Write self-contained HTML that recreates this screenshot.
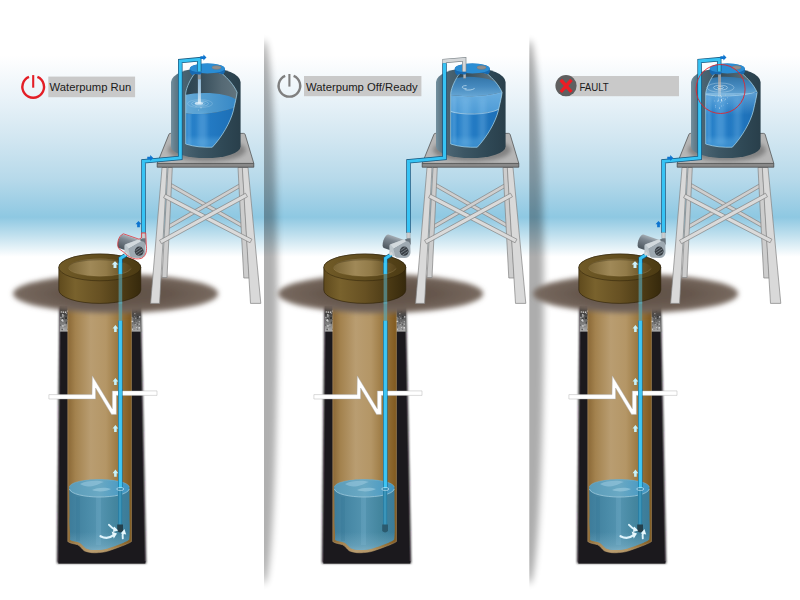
<!DOCTYPE html>
<html lang="en"><head><meta charset="utf-8"><title>Waterpump status</title>
<style>html,body{margin:0;padding:0;background:#fff;}body{width:800px;height:600px;overflow:hidden;}svg{display:block;}</style>
</head><body>
<svg width="800" height="600" viewBox="0 0 800 600">

<defs>
<linearGradient id="bg" x1="0" y1="0" x2="0" y2="600" gradientUnits="userSpaceOnUse">
<stop offset="0" stop-color="#ffffff"/>
<stop offset="0.092" stop-color="#ffffff"/>
<stop offset="0.167" stop-color="#e8f2f8"/>
<stop offset="0.233" stop-color="#d1e6f1"/>
<stop offset="0.300" stop-color="#b6d9ea"/>
<stop offset="0.362" stop-color="#8ec8e2"/>
<stop offset="0.392" stop-color="#c0e0ee"/>
<stop offset="0.428" stop-color="#ffffff"/>
<stop offset="1" stop-color="#ffffff"/>
</linearGradient>
<linearGradient id="divh" x1="0" y1="0" x2="1" y2="0">
<stop offset="0" stop-color="#9c9c9c" stop-opacity="0.95"/>
<stop offset="0.25" stop-color="#a8a8a8" stop-opacity="0.85"/>
<stop offset="0.6" stop-color="#c8c8c8" stop-opacity="0.45"/>
<stop offset="1" stop-color="#ffffff" stop-opacity="0"/>
</linearGradient>
<linearGradient id="divmask" x1="0" y1="0" x2="0" y2="600" gradientUnits="userSpaceOnUse">
<stop offset="0.05" stop-color="#000"/>
<stop offset="0.16" stop-color="#fff"/>
<stop offset="0.86" stop-color="#fff"/>
<stop offset="0.975" stop-color="#000"/>
</linearGradient>
<mask id="dm" maskUnits="userSpaceOnUse" x="0" y="0" width="800" height="600"><rect width="800" height="600" fill="url(#divmask)"/></mask>
<filter id="blur15" x="-10%" y="-5%" width="120%" height="110%"><feGaussianBlur stdDeviation="1.2"/></filter>
<filter id="blurdiv" x="-100%" y="-5%" width="300%" height="110%"><feGaussianBlur stdDeviation="3.8"/></filter>
<clipPath id="dc1"><rect x="264" y="0" width="60" height="600"/></clipPath>
<clipPath id="dc2"><rect x="529.3" y="0" width="60" height="600"/></clipPath>
<filter id="blur1" x="-20%" y="-20%" width="140%" height="140%"><feGaussianBlur stdDeviation="1"/></filter>
<filter id="blur2" x="-30%" y="-30%" width="160%" height="160%"><feGaussianBlur stdDeviation="2"/></filter>
<filter id="blur3" x="-20%" y="-50%" width="140%" height="200%"><feGaussianBlur stdDeviation="2.4"/></filter>
<radialGradient id="gshadow" cx="0.5" cy="0.5" r="0.5"><stop offset="0" stop-color="#5f5047"/><stop offset="0.55" stop-color="#66574d"/><stop offset="1" stop-color="#786a60"/></radialGradient>
<linearGradient id="gravel" x1="0" y1="0" x2="0" y2="1">
<stop offset="0" stop-color="#2a2a2a"/><stop offset="0.3" stop-color="#3c3c3c"/><stop offset="0.6" stop-color="#707070"/><stop offset="0.9" stop-color="#9c9c9c"/><stop offset="1" stop-color="#b0b0b0"/>
</linearGradient>
<linearGradient id="tube" x1="0" y1="0" x2="1" y2="0">
<stop offset="0" stop-color="#8a6836"/><stop offset="0.12" stop-color="#a3824e"/><stop offset="0.36" stop-color="#b99d71"/><stop offset="0.6" stop-color="#b49666"/><stop offset="0.8" stop-color="#9a773f"/><stop offset="1" stop-color="#80591f"/>
</linearGradient>
<linearGradient id="wellwater" x1="0" y1="0" x2="1" y2="0">
<stop offset="0" stop-color="#3d7c9a"/><stop offset="0.3" stop-color="#4a8ba8"/><stop offset="0.5" stop-color="#5494b0"/><stop offset="0.75" stop-color="#44869f"/><stop offset="1" stop-color="#3a7b99"/>
</linearGradient>
<linearGradient id="wellhaze" x1="0" y1="0" x2="0" y2="1"><stop offset="0" stop-color="#7fb2c8" stop-opacity="0"/><stop offset="0.7" stop-color="#7fb2c8" stop-opacity="0.45"/><stop offset="1" stop-color="#9ac2d2" stop-opacity="0.6"/></linearGradient>
<linearGradient id="wellsurf" x1="0" y1="0" x2="1" y2="0">
<stop offset="0" stop-color="#5a9bb8"/><stop offset="0.5" stop-color="#6aa9c4"/><stop offset="1" stop-color="#3f95c2"/>
</linearGradient>
<linearGradient id="tank" x1="0" y1="0" x2="1" y2="0">
<stop offset="0" stop-color="#73909f"/><stop offset="0.05" stop-color="#657f8d"/><stop offset="0.16" stop-color="#4b6573"/><stop offset="0.4" stop-color="#3c5664"/><stop offset="0.75" stop-color="#2f4855"/><stop offset="1" stop-color="#293f4b"/>
</linearGradient>
<linearGradient id="tankin" x1="0" y1="0" x2="1" y2="0">
<stop offset="0" stop-color="#2b4350"/><stop offset="0.3" stop-color="#374e5b"/><stop offset="0.7" stop-color="#556974"/><stop offset="1" stop-color="#62757f"/>
</linearGradient>
<linearGradient id="twater" x1="0" y1="0" x2="1" y2="0">
<stop offset="0" stop-color="#2a84cc"/><stop offset="0.5" stop-color="#237ac3"/><stop offset="1" stop-color="#1b6cb3"/>
</linearGradient>
<linearGradient id="tsurf" x1="0" y1="0" x2="1" y2="0">
<stop offset="0" stop-color="#6aadd9"/><stop offset="0.45" stop-color="#529ccf"/><stop offset="1" stop-color="#3385c5"/>
</linearGradient>
<linearGradient id="tsurf2" x1="0" y1="0" x2="0" y2="1">
<stop offset="0" stop-color="#4a98d4"/><stop offset="0.6" stop-color="#60a9dd"/><stop offset="1" stop-color="#82bfe8"/>
</linearGradient>
<linearGradient id="tsurf3" x1="0" y1="0" x2="0" y2="1">
<stop offset="0" stop-color="#3375a8"/><stop offset="0.5" stop-color="#4589be"/><stop offset="1" stop-color="#66a6d4"/>
</linearGradient>
<linearGradient id="fglow" x1="0" y1="0" x2="0" y2="1">
<stop offset="0" stop-color="#9ccdee" stop-opacity="0.5"/><stop offset="1" stop-color="#9ccdee" stop-opacity="0"/>
</linearGradient>
<linearGradient id="tband" x1="0" y1="0" x2="0" y2="1">
<stop offset="0" stop-color="#6aaee0"/><stop offset="1" stop-color="#4d9bd6"/>
</linearGradient>
<linearGradient id="stream" x1="0" y1="0" x2="0" y2="1">
<stop offset="0" stop-color="#9cc6e6"/><stop offset="0.6" stop-color="#b4d6ee"/><stop offset="1" stop-color="#d8ebf7"/>
</linearGradient>
<linearGradient id="streamg" x1="0" y1="0" x2="0" y2="1">
<stop offset="0" stop-color="#96999c"/><stop offset="0.62" stop-color="#a0a4a8"/><stop offset="0.7" stop-color="#a9bccb" stop-opacity="0.8"/><stop offset="1" stop-color="#cfe4f0" stop-opacity="0.2"/>
</linearGradient>
<linearGradient id="ringside" x1="0" y1="0" x2="1" y2="0">
<stop offset="0" stop-color="#5f4a1d"/><stop offset="0.2" stop-color="#79622d"/><stop offset="0.5" stop-color="#675123"/><stop offset="0.8" stop-color="#4a3914"/><stop offset="1" stop-color="#36290c"/>
</linearGradient>
<linearGradient id="ringtop" x1="0" y1="0" x2="1" y2="0">
<stop offset="0" stop-color="#705a27"/><stop offset="0.5" stop-color="#624e1f"/><stop offset="1" stop-color="#4b3a13"/>
</linearGradient>
<linearGradient id="ringin" x1="0" y1="0" x2="1" y2="0">
<stop offset="0" stop-color="#7a6535"/><stop offset="0.35" stop-color="#a08958"/><stop offset="0.6" stop-color="#927b49"/><stop offset="0.85" stop-color="#6a5528"/><stop offset="1" stop-color="#55421a"/>
</linearGradient>
<linearGradient id="motor" x1="0" y1="0" x2="0" y2="1">
<stop offset="0" stop-color="#a4adb4"/><stop offset="0.3" stop-color="#7d8790"/><stop offset="1" stop-color="#4c565e"/>
</linearGradient>
</defs>

<rect width="800" height="600" fill="url(#bg)"/>
<g clip-path="url(#dc1)"><ellipse cx="264" cy="312" rx="13.5" ry="272" fill="#000" opacity="0.31" filter="url(#blurdiv)"/></g>
<g clip-path="url(#dc2)"><ellipse cx="529.3" cy="312" rx="14.5" ry="272" fill="#000" opacity="0.32" filter="url(#blurdiv)"/></g>
<g transform="translate(0,0)">
<g filter="url(#blur15)"><path d="M59.4 306 L141 306 L146.2 563.2 L57 563.2 Z" fill="#1b191d"/></g>
<path d="M61.4 306 L139.2 306 L144.2 562.8 L59.2 562.8 Z" fill="#1b191d"/>
<rect x="58.4" y="561" width="87" height="2.6" fill="#1b191d"/>
<rect x="59.8" y="306" width="8.4" height="25.6" fill="url(#gravel)"/>
<rect x="131.3" y="306" width="9.4" height="25.6" fill="url(#gravel)"/>
<circle cx="64.9" cy="325.1" r="0.79" fill="#eee" opacity="0.51"/>
<circle cx="63.7" cy="328.9" r="0.71" fill="#ddd" opacity="0.55"/>
<circle cx="63.8" cy="315.7" r="0.65" fill="#c4c4c4" opacity="0.61"/>
<circle cx="65.8" cy="318.8" r="0.45" fill="#1a1a1a" opacity="0.57"/>
<circle cx="66.3" cy="313.6" r="0.69" fill="#e6e6e6" opacity="0.56"/>
<circle cx="67.6" cy="311.1" r="0.78" fill="#e6e6e6" opacity="0.89"/>
<circle cx="62.4" cy="329.3" r="0.65" fill="#ddd" opacity="0.58"/>
<circle cx="67.6" cy="314.7" r="0.88" fill="#1a1a1a" opacity="0.63"/>
<circle cx="62.9" cy="314.2" r="0.43" fill="#fff" opacity="0.65"/>
<circle cx="66.4" cy="322.1" r="0.68" fill="#333" opacity="0.53"/>
<circle cx="62.9" cy="316.8" r="0.73" fill="#e6e6e6" opacity="0.72"/>
<circle cx="65.6" cy="312.1" r="0.89" fill="#fff" opacity="0.93"/>
<circle cx="62.9" cy="318.7" r="0.65" fill="#1a1a1a" opacity="0.66"/>
<circle cx="64.6" cy="311.2" r="0.38" fill="#e6e6e6" opacity="0.78"/>
<circle cx="67.5" cy="313.3" r="0.49" fill="#1a1a1a" opacity="0.65"/>
<circle cx="62.9" cy="321.0" r="0.78" fill="#fff" opacity="0.77"/>
<circle cx="66.1" cy="318.0" r="0.51" fill="#1a1a1a" opacity="0.93"/>
<circle cx="60.9" cy="317.5" r="0.69" fill="#e6e6e6" opacity="0.65"/>
<circle cx="67.2" cy="321.4" r="0.52" fill="#333" opacity="0.64"/>
<circle cx="66.3" cy="322.9" r="0.75" fill="#333" opacity="0.95"/>
<circle cx="61.4" cy="311.9" r="0.89" fill="#c4c4c4" opacity="0.92"/>
<circle cx="60.4" cy="325.1" r="0.54" fill="#333" opacity="0.71"/>
<circle cx="63.4" cy="312.1" r="0.85" fill="#fff" opacity="0.86"/>
<circle cx="62.7" cy="314.9" r="0.89" fill="#c4c4c4" opacity="0.93"/>
<circle cx="65.0" cy="326.0" r="0.41" fill="#555" opacity="0.67"/>
<circle cx="60.6" cy="319.0" r="0.43" fill="#c4c4c4" opacity="0.88"/>
<circle cx="67.6" cy="319.6" r="0.62" fill="#111" opacity="0.64"/>
<circle cx="62.3" cy="319.9" r="0.85" fill="#fff" opacity="0.67"/>
<circle cx="67.7" cy="329.2" r="0.69" fill="#555" opacity="0.89"/>
<circle cx="61.6" cy="320.3" r="0.63" fill="#c4c4c4" opacity="0.89"/>
<circle cx="62.9" cy="325.9" r="0.78" fill="#eee" opacity="0.80"/>
<circle cx="66.0" cy="317.9" r="0.74" fill="#111" opacity="0.88"/>
<circle cx="62.2" cy="329.6" r="0.74" fill="#333" opacity="0.79"/>
<circle cx="64.6" cy="311.2" r="0.65" fill="#111" opacity="0.65"/>
<circle cx="134.1" cy="316.5" r="0.63" fill="#111" opacity="0.86"/>
<circle cx="134.7" cy="323.2" r="0.76" fill="#555" opacity="0.66"/>
<circle cx="138.9" cy="327.5" r="0.73" fill="#333" opacity="0.93"/>
<circle cx="136.2" cy="321.1" r="0.44" fill="#333" opacity="0.92"/>
<circle cx="135.8" cy="324.1" r="0.75" fill="#555" opacity="0.58"/>
<circle cx="138.4" cy="322.0" r="0.72" fill="#555" opacity="0.64"/>
<circle cx="136.4" cy="327.5" r="0.50" fill="#fff" opacity="0.59"/>
<circle cx="136.7" cy="322.9" r="0.45" fill="#ddd" opacity="0.78"/>
<circle cx="132.2" cy="320.0" r="0.47" fill="#fff" opacity="0.90"/>
<circle cx="132.7" cy="329.4" r="0.62" fill="#eee" opacity="0.52"/>
<circle cx="135.7" cy="318.2" r="0.69" fill="#c4c4c4" opacity="0.59"/>
<circle cx="137.8" cy="318.1" r="0.54" fill="#111" opacity="0.89"/>
<circle cx="139.1" cy="324.1" r="0.65" fill="#fff" opacity="0.75"/>
<circle cx="134.3" cy="316.6" r="0.63" fill="#c4c4c4" opacity="0.63"/>
<circle cx="134.8" cy="313.5" r="0.58" fill="#c4c4c4" opacity="0.79"/>
<circle cx="134.9" cy="313.7" r="0.68" fill="#c4c4c4" opacity="0.71"/>
<circle cx="133.5" cy="313.5" r="0.40" fill="#111" opacity="0.50"/>
<circle cx="132.7" cy="321.8" r="0.69" fill="#ddd" opacity="0.65"/>
<circle cx="139.2" cy="321.7" r="0.59" fill="#ddd" opacity="0.72"/>
<circle cx="135.8" cy="324.5" r="0.56" fill="#ddd" opacity="0.77"/>
<circle cx="134.0" cy="329.6" r="0.62" fill="#555" opacity="0.51"/>
<circle cx="139.7" cy="316.8" r="0.86" fill="#e6e6e6" opacity="0.71"/>
<circle cx="132.8" cy="322.8" r="0.59" fill="#333" opacity="0.52"/>
<circle cx="132.9" cy="318.5" r="0.61" fill="#c4c4c4" opacity="0.62"/>
<circle cx="139.7" cy="325.9" r="0.49" fill="#333" opacity="0.88"/>
<circle cx="137.9" cy="316.4" r="0.62" fill="#1a1a1a" opacity="0.73"/>
<circle cx="139.1" cy="327.7" r="0.84" fill="#fff" opacity="0.84"/>
<circle cx="134.3" cy="321.1" r="0.53" fill="#333" opacity="0.83"/>
<circle cx="132.0" cy="317.6" r="0.72" fill="#c4c4c4" opacity="0.56"/>
<circle cx="131.8" cy="321.5" r="0.73" fill="#fff" opacity="0.90"/>
<circle cx="136.4" cy="311.3" r="0.78" fill="#1a1a1a" opacity="0.77"/>
<circle cx="137.6" cy="329.1" r="0.71" fill="#555" opacity="0.71"/>
<circle cx="137.5" cy="324.7" r="0.84" fill="#555" opacity="0.87"/>
<circle cx="132.4" cy="326.9" r="0.73" fill="#555" opacity="0.76"/>
<path d="M67.8 306 L131.4 306 L131.4 541.6 C129 543.2 127 543.8 125 544.8 C120 546.4 116 548.6 111 550 C107 551.6 103 552.4 98.7 552.6 C93 553.2 88.5 552.6 84.2 550.8 C81.5 548.6 80 545.8 77.7 544.8 C74 543.6 70.5 543.6 67.8 541.6 Z" fill="url(#tube)" stroke="#c9a772" stroke-width="0.5"/>
<path d="M69.2 488 C69.2 476.5 129.4 476.5 129.4 488 L129.6 520 C130 531 129.6 536 129.2 539.6 C127 541.4 125 542 123.6 542.8 C119 544.4 115 546.4 110.4 547.6 C106.6 549 102.6 549.8 98.6 550 C93.4 550.4 89.4 549.8 85.6 548.2 C83 546.2 81.6 543.6 79 542.6 C75.4 541.4 72 541.4 70 539.8 C70.6 532 68.8 524 69.6 516 Z" fill="url(#wellwater)"/>
<clipPath id="wwrun"><path d="M69.2 488 L129.4 488 L129.6 520 C130 531 129.6 536 129.2 539.6 C127 541.4 125 542 123.6 542.8 C119 544.4 115 546.4 110.4 547.6 C106.6 549 102.6 549.8 98.6 550 C93.4 550.4 89.4 549.8 85.6 548.2 C83 546.2 81.6 543.6 79 542.6 C75.4 541.4 72 541.4 70 539.8 C70.6 532 68.8 524 69.6 516 Z"/></clipPath>
<rect x="69" y="532" width="61" height="19" fill="url(#wellhaze)" clip-path="url(#wwrun)"/>
<path d="M69.2 488 C69.2 476.5 129.4 476.5 129.4 488 C129.4 499.5 69.2 499.5 69.2 488 Z" fill="url(#wellsurf)"/>
<path d="M80 484 C86 480.5 98 480 104 482 C99 483.5 96 486 90 486.5 C86 487 83 485.5 80 484 Z" fill="#9ccbe0" opacity="0.55"/>
<path d="M92 490 C97 487.5 106 487 111 489 C107 491.5 98 492.5 92 490 Z" fill="#a9d3e6" opacity="0.5"/>
<path d="M69.4 489 C72 499.5 126 499.8 129.3 489" fill="none" stroke="#b6dcec" stroke-width="0.7" opacity="0.9"/>
<path d="M69.4 487 C71 477.2 127 477 129.3 487" fill="none" stroke="#7fb7d0" stroke-width="0.6" opacity="0.8"/>
<rect x="96" y="497" width="5" height="48" fill="#8cc4dc" opacity="0.18"/>
<rect x="76" y="497" width="4" height="44" fill="#2d6f8e" opacity="0.18"/>
<rect x="118.1" y="320.6" width="4.5" height="168" fill="#1b7298"/>
<rect x="118.75" y="320.6" width="3.2" height="168" fill="#3dc6f4"/>
<rect x="118.0" y="488" width="4.2" height="37" fill="#2a7fa4"/>
<rect x="119.0" y="488" width="2.2" height="37" fill="#3a95ba"/>
<ellipse cx="120.3" cy="489" rx="3.6" ry="1.5" fill="none" stroke="#d8f0fa" stroke-width="0.6"/>
<path d="M117.2 524.4 h5.8 v6.6 q-2.9 2.8 -5.8 0 Z" fill="#24404c"/>
<path d="M48.9 394.6 L92 394.6 L92.3 375.8 L112.3 408.7 L112.3 390.9 L157 390.9 L157 395.4 L116.4 395.4 L116.4 414.4 L111.5 414.4 L95.6 388 L95.6 399 L48.9 399 Z" fill="#ffffff" stroke="#a8a8a8" stroke-width="0.6" stroke-opacity="0.7"/>
<rect x="118.1" y="389" width="4.5" height="10" fill="#1b7298"/>
<rect x="118.75" y="389" width="3.2" height="10" fill="#3dc6f4"/>
<ellipse cx="115.6" cy="293.6" rx="102.5" ry="19.4" fill="url(#gshadow)" filter="url(#blur3)"/>
<rect x="118.6" y="300" width="3.6" height="21" fill="#5fa8b0" opacity="0.7"/>
<path d="M169.66 186.48 L243.66 228.48 L245.34 225.52 L171.34 183.52 Z" fill="#cfcfcf" stroke="#838383" stroke-width="0.7" stroke-linejoin="round"/>
<path d="M240.15 183.53 L165.65 226.53 L167.35 229.47 L241.85 186.47 Z" fill="#cfcfcf" stroke="#838383" stroke-width="0.7" stroke-linejoin="round"/>
<path d="M168 167.5 L172.3 167.5 L167 277.5 L162 277.5 Z" fill="#cdcdcd" stroke="#838383" stroke-width="0.7" stroke-linejoin="round"/>
<path d="M238 167.5 L242.5 167.5 L249.3 278 L243.8 278 Z" fill="#cdcdcd" stroke="#838383" stroke-width="0.7" stroke-linejoin="round"/>
<path d="M162 167.5 L167 167.5 L159.6 303.4 L150.6 303.4 Z" fill="#d9d9d9" stroke="#838383" stroke-width="0.7" stroke-linejoin="round"/>
<path d="M242.3 167.5 L248 167.5 L260.8 303.4 L250.5 303.4 Z" fill="#d9d9d9" stroke="#838383" stroke-width="0.7" stroke-linejoin="round"/>
<path d="M163.58 197.77 L250.08 242.77 L251.92 239.23 L165.42 194.23 Z" fill="#dadada" stroke="#838383" stroke-width="0.7" stroke-linejoin="round"/>
<path d="M245.54 193.24 L159.54 240.24 L161.46 243.76 L247.46 196.76 Z" fill="#dadada" stroke="#838383" stroke-width="0.7" stroke-linejoin="round"/>
<path d="M157.2 163.4 L253.8 163.4 L253.8 167.2 L157.2 167.2 Z" fill="#8a8a8a" stroke="#3f3f3f" stroke-width="0.7" stroke-linejoin="round"/>
<path d="M170.2 133.4 L243.6 133.4 Q244.8 133.4 245.2 134.6 L253.8 163.4 L157.2 163.4 L168.8 134.6 Q169.2 133.4 170.2 133.4 Z" fill="#b6b6b6" stroke="#484848" stroke-width="0.7" stroke-linejoin="round"/>
<ellipse cx="207" cy="150" rx="39" ry="11.5" fill="#606060" opacity="0.6" filter="url(#blur2)"/>
<path d="M171 82 A34.8 14 0 0 1 240.6 82 L240.6 146.5 A34.8 11.6 0 0 1 171 146.5 Z" fill="url(#tank)"/>
<clipPath id="cutrun"><path d="M194.6 73.6 C190.5 79 186.5 87 185.7 93.3 L185.7 144 C194 146.8 204 147.6 212.3 147.2 C222 137 230.5 122 233.3 110.8 C235 103 236.6 97 237.1 92.4 C234 85 228 78.6 221.6 73.2 C214 71 202 71 194.6 73.6 Z"/></clipPath>
<path d="M194.6 73.6 C190.5 79 186.5 87 185.7 93.3 L185.7 144 C194 146.8 204 147.6 212.3 147.2 C222 137 230.5 122 233.3 110.8 C235 103 236.6 97 237.1 92.4 C234 85 228 78.6 221.6 73.2 C214 71 202 71 194.6 73.6 Z" fill="url(#tankin)"/>
<g clip-path="url(#cutrun)">
<path d="M180 112 C190 116 220 114.5 240 105 L240 160 L180 160 Z" fill="url(#twater)"/>
<path d="M180 112 C190 116 220 114.5 240 105 C238 92 196 90.5 182 96 Z" fill="url(#tsurf)"/>
<rect x="198" y="112" width="9" height="36" fill="#7fc0ee" opacity="0.35" filter="url(#blur2)"/>
<rect x="187" y="113" width="4" height="32" fill="#8ecaf2" opacity="0.25" filter="url(#blur1)"/>
<rect x="186" y="138" width="40" height="10" fill="#6db7e8" opacity="0.35" filter="url(#blur2)"/>
</g>
<path d="M194.6 73.6 C190.5 79 186.5 87 185.7 93.3 L185.7 144 C194 146.8 204 147.6 212.3 147.2 C222 137 230.5 122 233.3 110.8 C235 103 236.6 97 237.1 92.4 C234 85 228 78.6 221.6 73.2 C214 71 202 71 194.6 73.6 Z" fill="none" stroke="#a9d9ee" stroke-width="0.7"/>
<rect x="197.8" y="72" width="3.0" height="7.4" fill="#909396"/>
<rect x="197.9" y="79.2" width="3.0" height="24.4" fill="url(#stream)" opacity="0.92"/>
<ellipse cx="200" cy="103.6" rx="5" ry="1.7" fill="none" stroke="#d8eefb" stroke-width="0.7" opacity="0.55"/>
<ellipse cx="200" cy="103.6" rx="8.5" ry="2.8" fill="none" stroke="#d8eefb" stroke-width="0.7" opacity="0.4"/>
<ellipse cx="200" cy="103.6" rx="12.5" ry="4.0" fill="none" stroke="#d8eefb" stroke-width="0.7" opacity="0.28"/>
<ellipse cx="199" cy="103.4" rx="4.2" ry="1.3" fill="#eaf6fd" opacity="0.75"/>
<circle cx="201" cy="107.8" r="0.5" fill="#fff" opacity="0.8"/><circle cx="198.6" cy="110" r="0.4" fill="#fff" opacity="0.7"/><circle cx="196" cy="106.4" r="0.4" fill="#fff" opacity="0.7"/>
<path d="M189.7 69 A17.6 5.6 0 0 1 224.9 69 L224.9 71 C224.9 72.4 224 73.6 222.6 74.4 C219 72.2 196 72.2 192.4 75.2 C190.6 74 189.7 72.4 189.7 71 Z" fill="#176ab2"/>
<ellipse cx="207.3" cy="68.5" rx="17.4" ry="5.0" fill="#2a8dd4"/>
<ellipse cx="216.5" cy="67.5" rx="4.6" ry="1.9" fill="#8e8e8e" stroke="#6a6f74" stroke-width="0.4"/>
<path d="M143.5 233 L143.5 161.3 L180.3 158 L180.3 61 L199.2 59.3 L199.2 71.5" fill="none" stroke="#185a82" stroke-width="4.5" stroke-linejoin="miter"/>
<path d="M143.5 233 L143.5 161.3 L180.3 158 L180.3 61 L199.2 59.3 L199.2 71.5" fill="none" stroke="#37c3f4" stroke-width="3.0" stroke-linejoin="miter"/>
<path d="M190.2 70.6 C192 73.4 196 74.4 200.5 74.6 L202 72.2 C198 72 193 71.8 190.2 70.6 Z" fill="#176ab2"/>
<rect x="141.9" y="232.6" width="3.2" height="5.6" fill="#c9cdd0" stroke="#8a8f93" stroke-width="0.4"/>
<path d="M58.8 267.4 A41 13.4 0 0 1 140.8 267.4 L140.8 290 A41 13.4 0 0 1 58.8 290 Z" fill="url(#ringside)" stroke="#2c2008" stroke-width="0.6"/>
<ellipse cx="99.8" cy="267.4" rx="41" ry="13.4" fill="url(#ringtop)" stroke="#2c2008" stroke-width="0.5"/>
<ellipse cx="99.8" cy="267.4" rx="31.4" ry="8.8" fill="url(#ringin)"/>
<path d="M68.4 267.4 A31.4 8.8 0 0 1 131.2 267.4 A31.4 7.2 0 0 0 68.4 267.4 Z" fill="#3a2d10" opacity="0.35"/>
<path d="M68.6 268.4 A31.4 8.8 0 0 0 131 268.4" fill="none" stroke="#a48d5c" stroke-width="0.5" opacity="0.7"/>
<rect x="118.2" y="262" width="4.3" height="12" fill="#1b7298"/>
<rect x="118.8" y="262" width="3.1" height="12" fill="#3dc6f4"/>
<rect x="118.6" y="273.8" width="3.6" height="30" fill="#58a8b8" opacity="0.62"/>
<path d="M126.4 254.6 L120.5 258.4 L120.5 263" fill="none" stroke="#185a82" stroke-width="4.3"/>
<path d="M126.4 254.6 L120.5 258.4 L120.5 263" fill="none" stroke="#37c3f4" stroke-width="2.9"/>
<g>
<g transform="rotate(19 121.2 241.3)"><path d="M121.2 234.1 L138 234.1 L138 248.5 L121.2 248.5 A2.9 7.2 0 0 1 121.2 234.1 Z" fill="url(#motor)"/></g>
<path d="M124.4 246.2 C124.4 245 125 244.4 126 244 L138.6 239.4 L141.6 241.2 L128.8 248.6 L129.4 256.8 L125.6 254.6 C124.8 254.2 124.4 253.4 124.4 252.6 Z" fill="#bcc6cc"/>
<path d="M125.6 244.6 L138.6 239.4 L141.6 241.2 L128.8 248.6 Z" fill="#d2d9dd"/>
<path d="M128.8 248.6 L141.2 241.3 C143.6 240.4 145.2 241.8 145.3 244 L145.5 252 C145.5 255.6 143 257.9 139.6 258.1 L133 257.7 C130.6 257.5 129.5 256.5 129.3 254.7 Z" fill="#9ea9b1"/>
<path d="M139.6 239.8 L142 238.4 L145.7 238.2 L145.8 245.4 C145 242.6 143.6 241 141.4 241.2 Z" fill="#69737b"/>
<ellipse cx="139.2" cy="251.2" rx="4.4" ry="4.6" fill="#393f45"/>
<path d="M135.6 250.6 L140.6 247.2 M135.8 253.2 L142.8 248.6 M137.4 255.2 L143.4 251.2" stroke="#7c858c" stroke-width="0.9" fill="none"/>
<rect x="124.4" y="252.4" width="3.2" height="2.8" fill="#d3d6d8" transform="rotate(-32 126 253.8)"/>
<path d="M123.4 233.8 L139 239.2 L141.4 238 L141.5 233 L145.7 233 L146.3 245 C147 250 146.6 255.6 141.6 258.3 C138 259.5 133 258.9 130.4 257.3 L127.4 255.6 L124.4 252.6 L119 248.8 C116.6 245.4 117.6 236 123.4 233.8 Z" fill="none" stroke="#e2252c" stroke-width="0.75" stroke-linejoin="round"/>
</g>
<path d="M138.5 221.1 L141.5 224.2 L139.85 224.2 L139.85 227.14499999999998 L137.15 227.14499999999998 L137.15 224.2 L135.5 224.2 Z" fill="#0d74cf" opacity="1"/>
<path d="M153.29999999999998 158.1 L150.2 155.1 L150.2 156.75 L147.255 156.75 L147.255 159.45 L150.2 159.45 L150.2 161.1 Z" fill="#0d74cf"/>
<path d="M206.5 57.6 L203.4 54.6 L203.4 56.25 L200.455 56.25 L200.455 58.95 L203.4 58.95 L203.4 60.6 Z" fill="#0d74cf"/>
<path d="M115 261.12800000000004 L118.36 264.6 L116.512 264.6 L116.512 267.89840000000004 L113.488 267.89840000000004 L113.488 264.6 L111.64 264.6 Z" fill="#cdf2ff" opacity="1"/>
<path d="M115.4 324.91875000000005 L118.25 328.6 L116.6825 328.6 L116.6825 332.0971875 L114.1175 332.0971875 L114.1175 328.6 L112.55000000000001 328.6 Z" fill="#c6f2fb" opacity="1"/>
<path d="M115.4 377.91875000000005 L118.25 381.6 L116.6825 381.6 L116.6825 385.0971875 L114.1175 385.0971875 L114.1175 381.6 L112.55000000000001 381.6 Z" fill="#c6f2fb" opacity="1"/>
<path d="M115.4 424.91875000000005 L118.25 428.6 L116.6825 428.6 L116.6825 432.0971875 L114.1175 432.0971875 L114.1175 428.6 L112.55000000000001 428.6 Z" fill="#c6f2fb" opacity="1"/>
<path d="M115.4 469.51875000000007 L118.25 473.20000000000005 L116.6825 473.20000000000005 L116.6825 476.69718750000004 L114.1175 476.69718750000004 L114.1175 473.20000000000005 L112.55000000000001 473.20000000000005 Z" fill="#c6f2fb" opacity="1"/>
<path d="M100.5 536.2 C105 538.6 110 538 113.6 535.2" fill="none" stroke="#dff4fc" stroke-width="2.2" stroke-linecap="round"/>
<path d="M111.6 531.6 L117 533.4 L113.8 538.6 Z" fill="#e6f7fd"/>
<path d="M109 524.8 C111.4 527.4 113 528.6 115.4 529.6" fill="none" stroke="#dff4fc" stroke-width="1.9" stroke-linecap="round"/>
<path d="M114.2 526.4 L118.2 530.6 L112.8 532 Z" fill="#e6f7fd"/>
<path d="M122.8 538.4 C122.2 536 122.4 534.4 123.4 532.4" fill="none" stroke="#dff4fc" stroke-width="1.9" stroke-linecap="round"/>
<path d="M120.8 533.6 L124.4 529 L126.2 534.6 Z" fill="#e6f7fd"/>
</g>
<g transform="translate(265,0)">
<g filter="url(#blur15)"><path d="M59.4 306 L141 306 L146.2 563.2 L57 563.2 Z" fill="#1b191d"/></g>
<path d="M61.4 306 L139.2 306 L144.2 562.8 L59.2 562.8 Z" fill="#1b191d"/>
<rect x="58.4" y="561" width="87" height="2.6" fill="#1b191d"/>
<rect x="59.8" y="306" width="8.4" height="25.6" fill="url(#gravel)"/>
<rect x="131.3" y="306" width="9.4" height="25.6" fill="url(#gravel)"/>
<circle cx="64.9" cy="325.1" r="0.79" fill="#eee" opacity="0.51"/>
<circle cx="63.7" cy="328.9" r="0.71" fill="#ddd" opacity="0.55"/>
<circle cx="63.8" cy="315.7" r="0.65" fill="#c4c4c4" opacity="0.61"/>
<circle cx="65.8" cy="318.8" r="0.45" fill="#1a1a1a" opacity="0.57"/>
<circle cx="66.3" cy="313.6" r="0.69" fill="#e6e6e6" opacity="0.56"/>
<circle cx="67.6" cy="311.1" r="0.78" fill="#e6e6e6" opacity="0.89"/>
<circle cx="62.4" cy="329.3" r="0.65" fill="#ddd" opacity="0.58"/>
<circle cx="67.6" cy="314.7" r="0.88" fill="#1a1a1a" opacity="0.63"/>
<circle cx="62.9" cy="314.2" r="0.43" fill="#fff" opacity="0.65"/>
<circle cx="66.4" cy="322.1" r="0.68" fill="#333" opacity="0.53"/>
<circle cx="62.9" cy="316.8" r="0.73" fill="#e6e6e6" opacity="0.72"/>
<circle cx="65.6" cy="312.1" r="0.89" fill="#fff" opacity="0.93"/>
<circle cx="62.9" cy="318.7" r="0.65" fill="#1a1a1a" opacity="0.66"/>
<circle cx="64.6" cy="311.2" r="0.38" fill="#e6e6e6" opacity="0.78"/>
<circle cx="67.5" cy="313.3" r="0.49" fill="#1a1a1a" opacity="0.65"/>
<circle cx="62.9" cy="321.0" r="0.78" fill="#fff" opacity="0.77"/>
<circle cx="66.1" cy="318.0" r="0.51" fill="#1a1a1a" opacity="0.93"/>
<circle cx="60.9" cy="317.5" r="0.69" fill="#e6e6e6" opacity="0.65"/>
<circle cx="67.2" cy="321.4" r="0.52" fill="#333" opacity="0.64"/>
<circle cx="66.3" cy="322.9" r="0.75" fill="#333" opacity="0.95"/>
<circle cx="61.4" cy="311.9" r="0.89" fill="#c4c4c4" opacity="0.92"/>
<circle cx="60.4" cy="325.1" r="0.54" fill="#333" opacity="0.71"/>
<circle cx="63.4" cy="312.1" r="0.85" fill="#fff" opacity="0.86"/>
<circle cx="62.7" cy="314.9" r="0.89" fill="#c4c4c4" opacity="0.93"/>
<circle cx="65.0" cy="326.0" r="0.41" fill="#555" opacity="0.67"/>
<circle cx="60.6" cy="319.0" r="0.43" fill="#c4c4c4" opacity="0.88"/>
<circle cx="67.6" cy="319.6" r="0.62" fill="#111" opacity="0.64"/>
<circle cx="62.3" cy="319.9" r="0.85" fill="#fff" opacity="0.67"/>
<circle cx="67.7" cy="329.2" r="0.69" fill="#555" opacity="0.89"/>
<circle cx="61.6" cy="320.3" r="0.63" fill="#c4c4c4" opacity="0.89"/>
<circle cx="62.9" cy="325.9" r="0.78" fill="#eee" opacity="0.80"/>
<circle cx="66.0" cy="317.9" r="0.74" fill="#111" opacity="0.88"/>
<circle cx="62.2" cy="329.6" r="0.74" fill="#333" opacity="0.79"/>
<circle cx="64.6" cy="311.2" r="0.65" fill="#111" opacity="0.65"/>
<circle cx="134.1" cy="316.5" r="0.63" fill="#111" opacity="0.86"/>
<circle cx="134.7" cy="323.2" r="0.76" fill="#555" opacity="0.66"/>
<circle cx="138.9" cy="327.5" r="0.73" fill="#333" opacity="0.93"/>
<circle cx="136.2" cy="321.1" r="0.44" fill="#333" opacity="0.92"/>
<circle cx="135.8" cy="324.1" r="0.75" fill="#555" opacity="0.58"/>
<circle cx="138.4" cy="322.0" r="0.72" fill="#555" opacity="0.64"/>
<circle cx="136.4" cy="327.5" r="0.50" fill="#fff" opacity="0.59"/>
<circle cx="136.7" cy="322.9" r="0.45" fill="#ddd" opacity="0.78"/>
<circle cx="132.2" cy="320.0" r="0.47" fill="#fff" opacity="0.90"/>
<circle cx="132.7" cy="329.4" r="0.62" fill="#eee" opacity="0.52"/>
<circle cx="135.7" cy="318.2" r="0.69" fill="#c4c4c4" opacity="0.59"/>
<circle cx="137.8" cy="318.1" r="0.54" fill="#111" opacity="0.89"/>
<circle cx="139.1" cy="324.1" r="0.65" fill="#fff" opacity="0.75"/>
<circle cx="134.3" cy="316.6" r="0.63" fill="#c4c4c4" opacity="0.63"/>
<circle cx="134.8" cy="313.5" r="0.58" fill="#c4c4c4" opacity="0.79"/>
<circle cx="134.9" cy="313.7" r="0.68" fill="#c4c4c4" opacity="0.71"/>
<circle cx="133.5" cy="313.5" r="0.40" fill="#111" opacity="0.50"/>
<circle cx="132.7" cy="321.8" r="0.69" fill="#ddd" opacity="0.65"/>
<circle cx="139.2" cy="321.7" r="0.59" fill="#ddd" opacity="0.72"/>
<circle cx="135.8" cy="324.5" r="0.56" fill="#ddd" opacity="0.77"/>
<circle cx="134.0" cy="329.6" r="0.62" fill="#555" opacity="0.51"/>
<circle cx="139.7" cy="316.8" r="0.86" fill="#e6e6e6" opacity="0.71"/>
<circle cx="132.8" cy="322.8" r="0.59" fill="#333" opacity="0.52"/>
<circle cx="132.9" cy="318.5" r="0.61" fill="#c4c4c4" opacity="0.62"/>
<circle cx="139.7" cy="325.9" r="0.49" fill="#333" opacity="0.88"/>
<circle cx="137.9" cy="316.4" r="0.62" fill="#1a1a1a" opacity="0.73"/>
<circle cx="139.1" cy="327.7" r="0.84" fill="#fff" opacity="0.84"/>
<circle cx="134.3" cy="321.1" r="0.53" fill="#333" opacity="0.83"/>
<circle cx="132.0" cy="317.6" r="0.72" fill="#c4c4c4" opacity="0.56"/>
<circle cx="131.8" cy="321.5" r="0.73" fill="#fff" opacity="0.90"/>
<circle cx="136.4" cy="311.3" r="0.78" fill="#1a1a1a" opacity="0.77"/>
<circle cx="137.6" cy="329.1" r="0.71" fill="#555" opacity="0.71"/>
<circle cx="137.5" cy="324.7" r="0.84" fill="#555" opacity="0.87"/>
<circle cx="132.4" cy="326.9" r="0.73" fill="#555" opacity="0.76"/>
<path d="M67.8 306 L131.4 306 L131.4 541.6 C129 543.2 127 543.8 125 544.8 C120 546.4 116 548.6 111 550 C107 551.6 103 552.4 98.7 552.6 C93 553.2 88.5 552.6 84.2 550.8 C81.5 548.6 80 545.8 77.7 544.8 C74 543.6 70.5 543.6 67.8 541.6 Z" fill="url(#tube)" stroke="#c9a772" stroke-width="0.5"/>
<path d="M69.2 488 C69.2 476.5 129.4 476.5 129.4 488 L129.6 520 C130 531 129.6 536 129.2 539.6 C127 541.4 125 542 123.6 542.8 C119 544.4 115 546.4 110.4 547.6 C106.6 549 102.6 549.8 98.6 550 C93.4 550.4 89.4 549.8 85.6 548.2 C83 546.2 81.6 543.6 79 542.6 C75.4 541.4 72 541.4 70 539.8 C70.6 532 68.8 524 69.6 516 Z" fill="url(#wellwater)"/>
<clipPath id="wwoff"><path d="M69.2 488 L129.4 488 L129.6 520 C130 531 129.6 536 129.2 539.6 C127 541.4 125 542 123.6 542.8 C119 544.4 115 546.4 110.4 547.6 C106.6 549 102.6 549.8 98.6 550 C93.4 550.4 89.4 549.8 85.6 548.2 C83 546.2 81.6 543.6 79 542.6 C75.4 541.4 72 541.4 70 539.8 C70.6 532 68.8 524 69.6 516 Z"/></clipPath>
<rect x="69" y="532" width="61" height="19" fill="url(#wellhaze)" clip-path="url(#wwoff)"/>
<path d="M69.2 488 C69.2 476.5 129.4 476.5 129.4 488 C129.4 499.5 69.2 499.5 69.2 488 Z" fill="url(#wellsurf)"/>
<path d="M80 484 C86 480.5 98 480 104 482 C99 483.5 96 486 90 486.5 C86 487 83 485.5 80 484 Z" fill="#9ccbe0" opacity="0.55"/>
<path d="M92 490 C97 487.5 106 487 111 489 C107 491.5 98 492.5 92 490 Z" fill="#a9d3e6" opacity="0.5"/>
<path d="M69.4 489 C72 499.5 126 499.8 129.3 489" fill="none" stroke="#b6dcec" stroke-width="0.7" opacity="0.9"/>
<path d="M69.4 487 C71 477.2 127 477 129.3 487" fill="none" stroke="#7fb7d0" stroke-width="0.6" opacity="0.8"/>
<rect x="96" y="497" width="5" height="48" fill="#8cc4dc" opacity="0.18"/>
<rect x="76" y="497" width="4" height="44" fill="#2d6f8e" opacity="0.18"/>
<rect x="118.1" y="320.6" width="4.5" height="168" fill="#1b7298"/>
<rect x="118.75" y="320.6" width="3.2" height="168" fill="#3dc6f4"/>
<rect x="118.0" y="488" width="4.2" height="37" fill="#2a7fa4"/>
<rect x="119.0" y="488" width="2.2" height="37" fill="#3a95ba"/>
<ellipse cx="120.3" cy="489" rx="3.6" ry="1.5" fill="none" stroke="#d8f0fa" stroke-width="0.6"/>
<path d="M117.2 524.4 h5.8 v6.6 q-2.9 2.8 -5.8 0 Z" fill="#2b5a6e"/>
<path d="M48.9 394.6 L92 394.6 L92.3 375.8 L112.3 408.7 L112.3 390.9 L157 390.9 L157 395.4 L116.4 395.4 L116.4 414.4 L111.5 414.4 L95.6 388 L95.6 399 L48.9 399 Z" fill="#ffffff" stroke="#a8a8a8" stroke-width="0.6" stroke-opacity="0.7"/>
<rect x="118.1" y="389" width="4.5" height="10" fill="#1b7298"/>
<rect x="118.75" y="389" width="3.2" height="10" fill="#3dc6f4"/>
<ellipse cx="115.6" cy="293.6" rx="102.5" ry="19.4" fill="url(#gshadow)" filter="url(#blur3)"/>
<rect x="118.6" y="300" width="3.6" height="21" fill="#5fa8b0" opacity="0.7"/>
<path d="M169.66 186.48 L243.66 228.48 L245.34 225.52 L171.34 183.52 Z" fill="#cfcfcf" stroke="#838383" stroke-width="0.7" stroke-linejoin="round"/>
<path d="M240.15 183.53 L165.65 226.53 L167.35 229.47 L241.85 186.47 Z" fill="#cfcfcf" stroke="#838383" stroke-width="0.7" stroke-linejoin="round"/>
<path d="M168 167.5 L172.3 167.5 L167 277.5 L162 277.5 Z" fill="#cdcdcd" stroke="#838383" stroke-width="0.7" stroke-linejoin="round"/>
<path d="M238 167.5 L242.5 167.5 L249.3 278 L243.8 278 Z" fill="#cdcdcd" stroke="#838383" stroke-width="0.7" stroke-linejoin="round"/>
<path d="M162 167.5 L167 167.5 L159.6 303.4 L150.6 303.4 Z" fill="#d9d9d9" stroke="#838383" stroke-width="0.7" stroke-linejoin="round"/>
<path d="M242.3 167.5 L248 167.5 L260.8 303.4 L250.5 303.4 Z" fill="#d9d9d9" stroke="#838383" stroke-width="0.7" stroke-linejoin="round"/>
<path d="M163.58 197.77 L250.08 242.77 L251.92 239.23 L165.42 194.23 Z" fill="#dadada" stroke="#838383" stroke-width="0.7" stroke-linejoin="round"/>
<path d="M245.54 193.24 L159.54 240.24 L161.46 243.76 L247.46 196.76 Z" fill="#dadada" stroke="#838383" stroke-width="0.7" stroke-linejoin="round"/>
<path d="M157.2 163.4 L253.8 163.4 L253.8 167.2 L157.2 167.2 Z" fill="#8a8a8a" stroke="#3f3f3f" stroke-width="0.7" stroke-linejoin="round"/>
<path d="M170.2 133.4 L243.6 133.4 Q244.8 133.4 245.2 134.6 L253.8 163.4 L157.2 163.4 L168.8 134.6 Q169.2 133.4 170.2 133.4 Z" fill="#b6b6b6" stroke="#484848" stroke-width="0.7" stroke-linejoin="round"/>
<ellipse cx="207" cy="150" rx="39" ry="11.5" fill="#606060" opacity="0.6" filter="url(#blur2)"/>
<path d="M171 82 A34.8 14 0 0 1 240.6 82 L240.6 146.5 A34.8 11.6 0 0 1 171 146.5 Z" fill="url(#tank)"/>
<clipPath id="cutoff"><path d="M194.6 73.6 C190.5 79 186.5 87 185.7 93.3 L185.7 144 C194 146.8 204 147.6 212.3 147.2 C222 137 230.5 122 233.3 110.8 C235 103 236.6 97 237.1 92.4 C234 85 228 78.6 221.6 73.2 C214 71 202 71 194.6 73.6 Z"/></clipPath>
<path d="M194.6 73.6 C190.5 79 186.5 87 185.7 93.3 L185.7 144 C194 146.8 204 147.6 212.3 147.2 C222 137 230.5 122 233.3 110.8 C235 103 236.6 97 237.1 92.4 C234 85 228 78.6 221.6 73.2 C214 71 202 71 194.6 73.6 Z" fill="url(#tankin)"/>
<g clip-path="url(#cutoff)">
<path d="M180 110.6 C190 115.2 222 115.4 240 107.4 L240 160 L180 160 Z" fill="url(#twater)"/>
<path d="M180 94 C190 97 222 97.6 240 91 L240 107.4 C222 115.4 190 115.2 180 110.6 Z" fill="url(#tband)"/>
<path d="M180 94 C190 97 222 97.6 240 91 C236 76 196 73.5 188 80 Z" fill="url(#tsurf3)"/>
<path d="M185.8 111.4 C196 115.2 222 115.4 234 109.2" fill="none" stroke="#cfe9f8" stroke-width="0.6"/>
<path d="M185.8 95.2 C196 97.4 222 97.8 236.6 92.4" fill="none" stroke="#9fcdec" stroke-width="0.5" opacity="0.4"/>
<rect x="196" y="97" width="9" height="50" fill="#8cc8f0" opacity="0.3" filter="url(#blur2)"/>
<rect x="214" y="97" width="7" height="44" fill="#8cc8f0" opacity="0.28" filter="url(#blur2)"/>
<rect x="187" y="97" width="4" height="46" fill="#8ecaf2" opacity="0.25" filter="url(#blur1)"/>
<rect x="186" y="138" width="40" height="10" fill="#6db7e8" opacity="0.35" filter="url(#blur2)"/>
</g>
<path d="M194.6 73.6 C190.5 79 186.5 87 185.7 93.3 L185.7 144 C194 146.8 204 147.6 212.3 147.2 C222 137 230.5 122 233.3 110.8 C235 103 236.6 97 237.1 92.4 C234 85 228 78.6 221.6 73.2 C214 71 202 71 194.6 73.6 Z" fill="none" stroke="#a9d9ee" stroke-width="0.7"/>
<rect x="198.3" y="72" width="2.6" height="6.2" fill="#aeb4b8" stroke="#7d858a" stroke-width="0.3"/>
<path d="M201.6 88.6 C195.6 88.8 196 85.4 201.6 85.6 M199.6 89.6 C203 90.6 207.6 90 209.6 88.4" fill="none" stroke="#d6ecf8" stroke-width="0.7" opacity="0.9"/>
<path d="M189.7 69 A17.6 5.6 0 0 1 224.9 69 L224.9 71 C224.9 72.4 224 73.6 222.6 74.4 C219 72.2 196 72.2 192.4 75.2 C190.6 74 189.7 72.4 189.7 71 Z" fill="#176ab2"/>
<ellipse cx="207.3" cy="68.5" rx="17.4" ry="5.0" fill="#2a8dd4"/>
<ellipse cx="216.5" cy="67.5" rx="4.6" ry="1.9" fill="#8e8e8e" stroke="#6a6f74" stroke-width="0.4"/>
<path d="M179.5 63.6 L179.5 61 L199.2 59.3 L199.2 71.5" fill="none" stroke="#7d858a" stroke-width="4.3"/>
<path d="M179.5 63.6 L179.5 61 L199.2 59.3 L199.2 71.5" fill="none" stroke="#d4d7d9" stroke-width="3.0"/>
<path d="M143.5 233 L143.5 161.3 L179.5 158 L179.5 63.2" fill="none" stroke="#185a82" stroke-width="4.5"/>
<path d="M143.5 233 L143.5 161.3 L179.5 158 L179.5 63.2" fill="none" stroke="#37c3f4" stroke-width="3.0"/>
<path d="M190.2 70.6 C192 73.4 196 74.4 200.5 74.6 L202 72.2 C198 72 193 71.8 190.2 70.6 Z" fill="#176ab2"/>
<rect x="141.9" y="232.6" width="3.2" height="5.6" fill="#c9cdd0" stroke="#8a8f93" stroke-width="0.4"/>
<path d="M58.8 267.4 A41 13.4 0 0 1 140.8 267.4 L140.8 290 A41 13.4 0 0 1 58.8 290 Z" fill="url(#ringside)" stroke="#2c2008" stroke-width="0.6"/>
<ellipse cx="99.8" cy="267.4" rx="41" ry="13.4" fill="url(#ringtop)" stroke="#2c2008" stroke-width="0.5"/>
<ellipse cx="99.8" cy="267.4" rx="31.4" ry="8.8" fill="url(#ringin)"/>
<path d="M68.4 267.4 A31.4 8.8 0 0 1 131.2 267.4 A31.4 7.2 0 0 0 68.4 267.4 Z" fill="#3a2d10" opacity="0.35"/>
<path d="M68.6 268.4 A31.4 8.8 0 0 0 131 268.4" fill="none" stroke="#a48d5c" stroke-width="0.5" opacity="0.7"/>
<rect x="118.2" y="262" width="4.3" height="12" fill="#1b7298"/>
<rect x="118.8" y="262" width="3.1" height="12" fill="#3dc6f4"/>
<rect x="118.6" y="273.8" width="3.6" height="30" fill="#58a8b8" opacity="0.62"/>
<path d="M126.4 254.6 L120.5 258.4 L120.5 263" fill="none" stroke="#185a82" stroke-width="4.3"/>
<path d="M126.4 254.6 L120.5 258.4 L120.5 263" fill="none" stroke="#37c3f4" stroke-width="2.9"/>
<g>
<g transform="rotate(19 121.2 241.3)"><path d="M121.2 234.1 L138 234.1 L138 248.5 L121.2 248.5 A2.9 7.2 0 0 1 121.2 234.1 Z" fill="url(#motor)"/></g>
<path d="M124.4 246.2 C124.4 245 125 244.4 126 244 L138.6 239.4 L141.6 241.2 L128.8 248.6 L129.4 256.8 L125.6 254.6 C124.8 254.2 124.4 253.4 124.4 252.6 Z" fill="#bcc6cc"/>
<path d="M125.6 244.6 L138.6 239.4 L141.6 241.2 L128.8 248.6 Z" fill="#d2d9dd"/>
<path d="M128.8 248.6 L141.2 241.3 C143.6 240.4 145.2 241.8 145.3 244 L145.5 252 C145.5 255.6 143 257.9 139.6 258.1 L133 257.7 C130.6 257.5 129.5 256.5 129.3 254.7 Z" fill="#9ea9b1"/>
<path d="M139.6 239.8 L142 238.4 L145.7 238.2 L145.8 245.4 C145 242.6 143.6 241 141.4 241.2 Z" fill="#69737b"/>
<ellipse cx="139.2" cy="251.2" rx="4.4" ry="4.6" fill="#393f45"/>
<path d="M135.6 250.6 L140.6 247.2 M135.8 253.2 L142.8 248.6 M137.4 255.2 L143.4 251.2" stroke="#7c858c" stroke-width="0.9" fill="none"/>
<rect x="124.4" y="252.4" width="3.2" height="2.8" fill="#d3d6d8" transform="rotate(-32 126 253.8)"/>
</g>
</g>
<g transform="translate(520,0)">
<g filter="url(#blur15)"><path d="M59.4 306 L141 306 L146.2 563.2 L57 563.2 Z" fill="#1b191d"/></g>
<path d="M61.4 306 L139.2 306 L144.2 562.8 L59.2 562.8 Z" fill="#1b191d"/>
<rect x="58.4" y="561" width="87" height="2.6" fill="#1b191d"/>
<rect x="59.8" y="306" width="8.4" height="25.6" fill="url(#gravel)"/>
<rect x="131.3" y="306" width="9.4" height="25.6" fill="url(#gravel)"/>
<circle cx="64.9" cy="325.1" r="0.79" fill="#eee" opacity="0.51"/>
<circle cx="63.7" cy="328.9" r="0.71" fill="#ddd" opacity="0.55"/>
<circle cx="63.8" cy="315.7" r="0.65" fill="#c4c4c4" opacity="0.61"/>
<circle cx="65.8" cy="318.8" r="0.45" fill="#1a1a1a" opacity="0.57"/>
<circle cx="66.3" cy="313.6" r="0.69" fill="#e6e6e6" opacity="0.56"/>
<circle cx="67.6" cy="311.1" r="0.78" fill="#e6e6e6" opacity="0.89"/>
<circle cx="62.4" cy="329.3" r="0.65" fill="#ddd" opacity="0.58"/>
<circle cx="67.6" cy="314.7" r="0.88" fill="#1a1a1a" opacity="0.63"/>
<circle cx="62.9" cy="314.2" r="0.43" fill="#fff" opacity="0.65"/>
<circle cx="66.4" cy="322.1" r="0.68" fill="#333" opacity="0.53"/>
<circle cx="62.9" cy="316.8" r="0.73" fill="#e6e6e6" opacity="0.72"/>
<circle cx="65.6" cy="312.1" r="0.89" fill="#fff" opacity="0.93"/>
<circle cx="62.9" cy="318.7" r="0.65" fill="#1a1a1a" opacity="0.66"/>
<circle cx="64.6" cy="311.2" r="0.38" fill="#e6e6e6" opacity="0.78"/>
<circle cx="67.5" cy="313.3" r="0.49" fill="#1a1a1a" opacity="0.65"/>
<circle cx="62.9" cy="321.0" r="0.78" fill="#fff" opacity="0.77"/>
<circle cx="66.1" cy="318.0" r="0.51" fill="#1a1a1a" opacity="0.93"/>
<circle cx="60.9" cy="317.5" r="0.69" fill="#e6e6e6" opacity="0.65"/>
<circle cx="67.2" cy="321.4" r="0.52" fill="#333" opacity="0.64"/>
<circle cx="66.3" cy="322.9" r="0.75" fill="#333" opacity="0.95"/>
<circle cx="61.4" cy="311.9" r="0.89" fill="#c4c4c4" opacity="0.92"/>
<circle cx="60.4" cy="325.1" r="0.54" fill="#333" opacity="0.71"/>
<circle cx="63.4" cy="312.1" r="0.85" fill="#fff" opacity="0.86"/>
<circle cx="62.7" cy="314.9" r="0.89" fill="#c4c4c4" opacity="0.93"/>
<circle cx="65.0" cy="326.0" r="0.41" fill="#555" opacity="0.67"/>
<circle cx="60.6" cy="319.0" r="0.43" fill="#c4c4c4" opacity="0.88"/>
<circle cx="67.6" cy="319.6" r="0.62" fill="#111" opacity="0.64"/>
<circle cx="62.3" cy="319.9" r="0.85" fill="#fff" opacity="0.67"/>
<circle cx="67.7" cy="329.2" r="0.69" fill="#555" opacity="0.89"/>
<circle cx="61.6" cy="320.3" r="0.63" fill="#c4c4c4" opacity="0.89"/>
<circle cx="62.9" cy="325.9" r="0.78" fill="#eee" opacity="0.80"/>
<circle cx="66.0" cy="317.9" r="0.74" fill="#111" opacity="0.88"/>
<circle cx="62.2" cy="329.6" r="0.74" fill="#333" opacity="0.79"/>
<circle cx="64.6" cy="311.2" r="0.65" fill="#111" opacity="0.65"/>
<circle cx="134.1" cy="316.5" r="0.63" fill="#111" opacity="0.86"/>
<circle cx="134.7" cy="323.2" r="0.76" fill="#555" opacity="0.66"/>
<circle cx="138.9" cy="327.5" r="0.73" fill="#333" opacity="0.93"/>
<circle cx="136.2" cy="321.1" r="0.44" fill="#333" opacity="0.92"/>
<circle cx="135.8" cy="324.1" r="0.75" fill="#555" opacity="0.58"/>
<circle cx="138.4" cy="322.0" r="0.72" fill="#555" opacity="0.64"/>
<circle cx="136.4" cy="327.5" r="0.50" fill="#fff" opacity="0.59"/>
<circle cx="136.7" cy="322.9" r="0.45" fill="#ddd" opacity="0.78"/>
<circle cx="132.2" cy="320.0" r="0.47" fill="#fff" opacity="0.90"/>
<circle cx="132.7" cy="329.4" r="0.62" fill="#eee" opacity="0.52"/>
<circle cx="135.7" cy="318.2" r="0.69" fill="#c4c4c4" opacity="0.59"/>
<circle cx="137.8" cy="318.1" r="0.54" fill="#111" opacity="0.89"/>
<circle cx="139.1" cy="324.1" r="0.65" fill="#fff" opacity="0.75"/>
<circle cx="134.3" cy="316.6" r="0.63" fill="#c4c4c4" opacity="0.63"/>
<circle cx="134.8" cy="313.5" r="0.58" fill="#c4c4c4" opacity="0.79"/>
<circle cx="134.9" cy="313.7" r="0.68" fill="#c4c4c4" opacity="0.71"/>
<circle cx="133.5" cy="313.5" r="0.40" fill="#111" opacity="0.50"/>
<circle cx="132.7" cy="321.8" r="0.69" fill="#ddd" opacity="0.65"/>
<circle cx="139.2" cy="321.7" r="0.59" fill="#ddd" opacity="0.72"/>
<circle cx="135.8" cy="324.5" r="0.56" fill="#ddd" opacity="0.77"/>
<circle cx="134.0" cy="329.6" r="0.62" fill="#555" opacity="0.51"/>
<circle cx="139.7" cy="316.8" r="0.86" fill="#e6e6e6" opacity="0.71"/>
<circle cx="132.8" cy="322.8" r="0.59" fill="#333" opacity="0.52"/>
<circle cx="132.9" cy="318.5" r="0.61" fill="#c4c4c4" opacity="0.62"/>
<circle cx="139.7" cy="325.9" r="0.49" fill="#333" opacity="0.88"/>
<circle cx="137.9" cy="316.4" r="0.62" fill="#1a1a1a" opacity="0.73"/>
<circle cx="139.1" cy="327.7" r="0.84" fill="#fff" opacity="0.84"/>
<circle cx="134.3" cy="321.1" r="0.53" fill="#333" opacity="0.83"/>
<circle cx="132.0" cy="317.6" r="0.72" fill="#c4c4c4" opacity="0.56"/>
<circle cx="131.8" cy="321.5" r="0.73" fill="#fff" opacity="0.90"/>
<circle cx="136.4" cy="311.3" r="0.78" fill="#1a1a1a" opacity="0.77"/>
<circle cx="137.6" cy="329.1" r="0.71" fill="#555" opacity="0.71"/>
<circle cx="137.5" cy="324.7" r="0.84" fill="#555" opacity="0.87"/>
<circle cx="132.4" cy="326.9" r="0.73" fill="#555" opacity="0.76"/>
<path d="M67.8 306 L131.4 306 L131.4 541.6 C129 543.2 127 543.8 125 544.8 C120 546.4 116 548.6 111 550 C107 551.6 103 552.4 98.7 552.6 C93 553.2 88.5 552.6 84.2 550.8 C81.5 548.6 80 545.8 77.7 544.8 C74 543.6 70.5 543.6 67.8 541.6 Z" fill="url(#tube)" stroke="#c9a772" stroke-width="0.5"/>
<path d="M69.2 488 C69.2 476.5 129.4 476.5 129.4 488 L129.6 520 C130 531 129.6 536 129.2 539.6 C127 541.4 125 542 123.6 542.8 C119 544.4 115 546.4 110.4 547.6 C106.6 549 102.6 549.8 98.6 550 C93.4 550.4 89.4 549.8 85.6 548.2 C83 546.2 81.6 543.6 79 542.6 C75.4 541.4 72 541.4 70 539.8 C70.6 532 68.8 524 69.6 516 Z" fill="url(#wellwater)"/>
<clipPath id="wwfault"><path d="M69.2 488 L129.4 488 L129.6 520 C130 531 129.6 536 129.2 539.6 C127 541.4 125 542 123.6 542.8 C119 544.4 115 546.4 110.4 547.6 C106.6 549 102.6 549.8 98.6 550 C93.4 550.4 89.4 549.8 85.6 548.2 C83 546.2 81.6 543.6 79 542.6 C75.4 541.4 72 541.4 70 539.8 C70.6 532 68.8 524 69.6 516 Z"/></clipPath>
<rect x="69" y="532" width="61" height="19" fill="url(#wellhaze)" clip-path="url(#wwfault)"/>
<path d="M69.2 488 C69.2 476.5 129.4 476.5 129.4 488 C129.4 499.5 69.2 499.5 69.2 488 Z" fill="url(#wellsurf)"/>
<path d="M80 484 C86 480.5 98 480 104 482 C99 483.5 96 486 90 486.5 C86 487 83 485.5 80 484 Z" fill="#9ccbe0" opacity="0.55"/>
<path d="M92 490 C97 487.5 106 487 111 489 C107 491.5 98 492.5 92 490 Z" fill="#a9d3e6" opacity="0.5"/>
<path d="M69.4 489 C72 499.5 126 499.8 129.3 489" fill="none" stroke="#b6dcec" stroke-width="0.7" opacity="0.9"/>
<path d="M69.4 487 C71 477.2 127 477 129.3 487" fill="none" stroke="#7fb7d0" stroke-width="0.6" opacity="0.8"/>
<rect x="96" y="497" width="5" height="48" fill="#8cc4dc" opacity="0.18"/>
<rect x="76" y="497" width="4" height="44" fill="#2d6f8e" opacity="0.18"/>
<rect x="118.1" y="320.6" width="4.5" height="168" fill="#1b7298"/>
<rect x="118.75" y="320.6" width="3.2" height="168" fill="#3dc6f4"/>
<rect x="118.0" y="488" width="4.2" height="37" fill="#2a7fa4"/>
<rect x="119.0" y="488" width="2.2" height="37" fill="#3a95ba"/>
<ellipse cx="120.3" cy="489" rx="3.6" ry="1.5" fill="none" stroke="#d8f0fa" stroke-width="0.6"/>
<path d="M117.2 524.4 h5.8 v6.6 q-2.9 2.8 -5.8 0 Z" fill="#24404c"/>
<path d="M48.9 394.6 L92 394.6 L92.3 375.8 L112.3 408.7 L112.3 390.9 L157 390.9 L157 395.4 L116.4 395.4 L116.4 414.4 L111.5 414.4 L95.6 388 L95.6 399 L48.9 399 Z" fill="#ffffff" stroke="#a8a8a8" stroke-width="0.6" stroke-opacity="0.7"/>
<rect x="118.1" y="389" width="4.5" height="10" fill="#1b7298"/>
<rect x="118.75" y="389" width="3.2" height="10" fill="#3dc6f4"/>
<ellipse cx="115.6" cy="293.6" rx="102.5" ry="19.4" fill="url(#gshadow)" filter="url(#blur3)"/>
<rect x="118.6" y="300" width="3.6" height="21" fill="#5fa8b0" opacity="0.7"/>
<path d="M169.66 186.48 L243.66 228.48 L245.34 225.52 L171.34 183.52 Z" fill="#cfcfcf" stroke="#838383" stroke-width="0.7" stroke-linejoin="round"/>
<path d="M240.15 183.53 L165.65 226.53 L167.35 229.47 L241.85 186.47 Z" fill="#cfcfcf" stroke="#838383" stroke-width="0.7" stroke-linejoin="round"/>
<path d="M168 167.5 L172.3 167.5 L167 277.5 L162 277.5 Z" fill="#cdcdcd" stroke="#838383" stroke-width="0.7" stroke-linejoin="round"/>
<path d="M238 167.5 L242.5 167.5 L249.3 278 L243.8 278 Z" fill="#cdcdcd" stroke="#838383" stroke-width="0.7" stroke-linejoin="round"/>
<path d="M162 167.5 L167 167.5 L159.6 303.4 L150.6 303.4 Z" fill="#d9d9d9" stroke="#838383" stroke-width="0.7" stroke-linejoin="round"/>
<path d="M242.3 167.5 L248 167.5 L260.8 303.4 L250.5 303.4 Z" fill="#d9d9d9" stroke="#838383" stroke-width="0.7" stroke-linejoin="round"/>
<path d="M163.58 197.77 L250.08 242.77 L251.92 239.23 L165.42 194.23 Z" fill="#dadada" stroke="#838383" stroke-width="0.7" stroke-linejoin="round"/>
<path d="M245.54 193.24 L159.54 240.24 L161.46 243.76 L247.46 196.76 Z" fill="#dadada" stroke="#838383" stroke-width="0.7" stroke-linejoin="round"/>
<path d="M157.2 163.4 L253.8 163.4 L253.8 167.2 L157.2 167.2 Z" fill="#8a8a8a" stroke="#3f3f3f" stroke-width="0.7" stroke-linejoin="round"/>
<path d="M170.2 133.4 L243.6 133.4 Q244.8 133.4 245.2 134.6 L253.8 163.4 L157.2 163.4 L168.8 134.6 Q169.2 133.4 170.2 133.4 Z" fill="#b6b6b6" stroke="#484848" stroke-width="0.7" stroke-linejoin="round"/>
<ellipse cx="207" cy="150" rx="39" ry="11.5" fill="#606060" opacity="0.6" filter="url(#blur2)"/>
<path d="M171 82 A34.8 14 0 0 1 240.6 82 L240.6 146.5 A34.8 11.6 0 0 1 171 146.5 Z" fill="url(#tank)"/>
<clipPath id="cutfault"><path d="M194.6 73.6 C190.5 79 186.5 87 185.7 93.3 L185.7 144 C194 146.8 204 147.6 212.3 147.2 C222 137 230.5 122 233.3 110.8 C235 103 236.6 97 237.1 92.4 C234 85 228 78.6 221.6 73.2 C214 71 202 71 194.6 73.6 Z"/></clipPath>
<path d="M194.6 73.6 C190.5 79 186.5 87 185.7 93.3 L185.7 144 C194 146.8 204 147.6 212.3 147.2 C222 137 230.5 122 233.3 110.8 C235 103 236.6 97 237.1 92.4 C234 85 228 78.6 221.6 73.2 C214 71 202 71 194.6 73.6 Z" fill="url(#tankin)"/>
<g clip-path="url(#cutfault)">
<path d="M180 93.5 C190 96 222 97 240 90 L240 160 L180 160 Z" fill="url(#twater)"/>
<path d="M180 93.5 C190 96 222 97 240 90 C236 76 196 74 188 80 Z" fill="url(#tsurf3)"/>
<rect x="184" y="93" width="56" height="22" fill="url(#fglow)"/>
<path d="M185.8 94.6 C196 96.6 222 97 236.8 91.6" fill="none" stroke="#bfe2f5" stroke-width="0.6"/>
<rect x="196" y="97" width="9" height="48" fill="#7fc0ee" opacity="0.35" filter="url(#blur2)"/>
<rect x="214" y="97" width="7" height="44" fill="#7fc0ee" opacity="0.3" filter="url(#blur2)"/>
<rect x="187" y="97" width="4" height="46" fill="#8ecaf2" opacity="0.25" filter="url(#blur1)"/>
<rect x="186" y="138" width="40" height="10" fill="#6db7e8" opacity="0.35" filter="url(#blur2)"/>
</g>
<path d="M194.6 73.6 C190.5 79 186.5 87 185.7 93.3 L185.7 144 C194 146.8 204 147.6 212.3 147.2 C222 137 230.5 122 233.3 110.8 C235 103 236.6 97 237.1 92.4 C234 85 228 78.6 221.6 73.2 C214 71 202 71 194.6 73.6 Z" fill="none" stroke="#a9d9ee" stroke-width="0.7"/>
<rect x="198.1" y="72.5" width="2.9" height="25" fill="url(#streamg)"/>
<ellipse cx="200.5" cy="87.6" rx="3" ry="1.0" fill="none" stroke="#e4f3fb" stroke-width="0.8" opacity="0.7"/>
<ellipse cx="200.5" cy="87.6" rx="7" ry="2.4" fill="none" stroke="#e4f3fb" stroke-width="0.8" opacity="0.6"/>
<ellipse cx="200.5" cy="87.6" rx="13.5" ry="4.6" fill="none" stroke="#e4f3fb" stroke-width="0.8" opacity="0.4"/>
<circle cx="195.6" cy="107.0" r="0.39" fill="#fff" opacity="0.73"/>
<circle cx="200.7" cy="102.6" r="0.31" fill="#fff" opacity="0.73"/>
<circle cx="195.6" cy="96.2" r="0.34" fill="#fff" opacity="0.54"/>
<circle cx="195.4" cy="105.5" r="0.46" fill="#fff" opacity="0.52"/>
<circle cx="207.7" cy="103.5" r="0.43" fill="#fff" opacity="0.57"/>
<circle cx="198.6" cy="95.2" r="0.41" fill="#fff" opacity="0.53"/>
<circle cx="200.4" cy="95.4" r="0.39" fill="#fff" opacity="0.70"/>
<circle cx="201.7" cy="106.0" r="0.41" fill="#fff" opacity="0.79"/>
<circle cx="194.8" cy="100.9" r="0.33" fill="#fff" opacity="0.95"/>
<circle cx="199.5" cy="107.9" r="0.50" fill="#fff" opacity="0.82"/>
<circle cx="198.6" cy="98.8" r="0.27" fill="#fff" opacity="0.84"/>
<circle cx="201.6" cy="100.2" r="0.50" fill="#fff" opacity="0.67"/>
<circle cx="205.5" cy="95.0" r="0.31" fill="#fff" opacity="0.91"/>
<circle cx="197.9" cy="101.1" r="0.54" fill="#fff" opacity="0.68"/>
<circle cx="203.5" cy="105.1" r="0.33" fill="#fff" opacity="0.54"/>
<circle cx="201.5" cy="99.3" r="0.54" fill="#fff" opacity="0.84"/>
<circle cx="201.3" cy="96.3" r="0.27" fill="#fff" opacity="0.86"/>
<circle cx="201.1" cy="97.3" r="0.42" fill="#fff" opacity="0.70"/>
<circle cx="201.4" cy="96.7" r="0.44" fill="#fff" opacity="0.55"/>
<circle cx="204.3" cy="100.5" r="0.31" fill="#fff" opacity="0.62"/>
<circle cx="205.2" cy="99.0" r="0.52" fill="#fff" opacity="0.59"/>
<circle cx="198.5" cy="100.1" r="0.51" fill="#fff" opacity="0.79"/>
<circle cx="207.3" cy="97.8" r="0.33" fill="#fff" opacity="0.85"/>
<circle cx="205.2" cy="99.3" r="0.34" fill="#fff" opacity="0.53"/>
<circle cx="203.1" cy="98.2" r="0.43" fill="#fff" opacity="0.67"/>
<circle cx="201.8" cy="100.9" r="0.54" fill="#fff" opacity="0.72"/>
<path d="M189.7 69 A17.6 5.6 0 0 1 224.9 69 L224.9 71 C224.9 72.4 224 73.6 222.6 74.4 C219 72.2 196 72.2 192.4 75.2 C190.6 74 189.7 72.4 189.7 71 Z" fill="#176ab2"/>
<ellipse cx="207.3" cy="68.5" rx="17.4" ry="5.0" fill="#2a8dd4"/>
<ellipse cx="216.5" cy="67.5" rx="4.6" ry="1.9" fill="#8e8e8e" stroke="#6a6f74" stroke-width="0.4"/>
<path d="M143.5 233 L143.5 161.3 L179.6 158 L179.6 61 L199.2 59.3 L199.2 71.5" fill="none" stroke="#185a82" stroke-width="4.5" stroke-linejoin="miter"/>
<path d="M143.5 233 L143.5 161.3 L179.6 158 L179.6 61 L199.2 59.3 L199.2 71.5" fill="none" stroke="#37c3f4" stroke-width="3.0" stroke-linejoin="miter"/>
<path d="M190.2 70.6 C192 73.4 196 74.4 200.5 74.6 L202 72.2 C198 72 193 71.8 190.2 70.6 Z" fill="#176ab2"/>
<rect x="141.9" y="232.6" width="3.2" height="5.6" fill="#c9cdd0" stroke="#8a8f93" stroke-width="0.4"/>
<path d="M58.8 267.4 A41 13.4 0 0 1 140.8 267.4 L140.8 290 A41 13.4 0 0 1 58.8 290 Z" fill="url(#ringside)" stroke="#2c2008" stroke-width="0.6"/>
<ellipse cx="99.8" cy="267.4" rx="41" ry="13.4" fill="url(#ringtop)" stroke="#2c2008" stroke-width="0.5"/>
<ellipse cx="99.8" cy="267.4" rx="31.4" ry="8.8" fill="url(#ringin)"/>
<path d="M68.4 267.4 A31.4 8.8 0 0 1 131.2 267.4 A31.4 7.2 0 0 0 68.4 267.4 Z" fill="#3a2d10" opacity="0.35"/>
<path d="M68.6 268.4 A31.4 8.8 0 0 0 131 268.4" fill="none" stroke="#a48d5c" stroke-width="0.5" opacity="0.7"/>
<rect x="118.2" y="262" width="4.3" height="12" fill="#1b7298"/>
<rect x="118.8" y="262" width="3.1" height="12" fill="#3dc6f4"/>
<rect x="118.6" y="273.8" width="3.6" height="30" fill="#58a8b8" opacity="0.62"/>
<path d="M126.4 254.6 L120.5 258.4 L120.5 263" fill="none" stroke="#185a82" stroke-width="4.3"/>
<path d="M126.4 254.6 L120.5 258.4 L120.5 263" fill="none" stroke="#37c3f4" stroke-width="2.9"/>
<g>
<g transform="rotate(19 121.2 241.3)"><path d="M121.2 234.1 L138 234.1 L138 248.5 L121.2 248.5 A2.9 7.2 0 0 1 121.2 234.1 Z" fill="url(#motor)"/></g>
<path d="M124.4 246.2 C124.4 245 125 244.4 126 244 L138.6 239.4 L141.6 241.2 L128.8 248.6 L129.4 256.8 L125.6 254.6 C124.8 254.2 124.4 253.4 124.4 252.6 Z" fill="#bcc6cc"/>
<path d="M125.6 244.6 L138.6 239.4 L141.6 241.2 L128.8 248.6 Z" fill="#d2d9dd"/>
<path d="M128.8 248.6 L141.2 241.3 C143.6 240.4 145.2 241.8 145.3 244 L145.5 252 C145.5 255.6 143 257.9 139.6 258.1 L133 257.7 C130.6 257.5 129.5 256.5 129.3 254.7 Z" fill="#9ea9b1"/>
<path d="M139.6 239.8 L142 238.4 L145.7 238.2 L145.8 245.4 C145 242.6 143.6 241 141.4 241.2 Z" fill="#69737b"/>
<ellipse cx="139.2" cy="251.2" rx="4.4" ry="4.6" fill="#393f45"/>
<path d="M135.6 250.6 L140.6 247.2 M135.8 253.2 L142.8 248.6 M137.4 255.2 L143.4 251.2" stroke="#7c858c" stroke-width="0.9" fill="none"/>
<rect x="124.4" y="252.4" width="3.2" height="2.8" fill="#d3d6d8" transform="rotate(-32 126 253.8)"/>
</g>
<path d="M138.5 221.1 L141.5 224.2 L139.85 224.2 L139.85 227.14499999999998 L137.15 227.14499999999998 L137.15 224.2 L135.5 224.2 Z" fill="#0d74cf" opacity="1"/>
<path d="M153.29999999999998 158.1 L150.2 155.1 L150.2 156.75 L147.255 156.75 L147.255 159.45 L150.2 159.45 L150.2 161.1 Z" fill="#0d74cf"/>
<path d="M206.5 57.6 L203.4 54.6 L203.4 56.25 L200.455 56.25 L200.455 58.95 L203.4 58.95 L203.4 60.6 Z" fill="#0d74cf"/>
<path d="M115 261.12800000000004 L118.36 264.6 L116.512 264.6 L116.512 267.89840000000004 L113.488 267.89840000000004 L113.488 264.6 L111.64 264.6 Z" fill="#cdf2ff" opacity="1"/>
<path d="M115.4 324.91875000000005 L118.25 328.6 L116.6825 328.6 L116.6825 332.0971875 L114.1175 332.0971875 L114.1175 328.6 L112.55000000000001 328.6 Z" fill="#c6f2fb" opacity="1"/>
<path d="M115.4 377.91875000000005 L118.25 381.6 L116.6825 381.6 L116.6825 385.0971875 L114.1175 385.0971875 L114.1175 381.6 L112.55000000000001 381.6 Z" fill="#c6f2fb" opacity="1"/>
<path d="M115.4 424.91875000000005 L118.25 428.6 L116.6825 428.6 L116.6825 432.0971875 L114.1175 432.0971875 L114.1175 428.6 L112.55000000000001 428.6 Z" fill="#c6f2fb" opacity="1"/>
<path d="M115.4 469.51875000000007 L118.25 473.20000000000005 L116.6825 473.20000000000005 L116.6825 476.69718750000004 L114.1175 476.69718750000004 L114.1175 473.20000000000005 L112.55000000000001 473.20000000000005 Z" fill="#c6f2fb" opacity="1"/>
<path d="M100.5 536.2 C105 538.6 110 538 113.6 535.2" fill="none" stroke="#dff4fc" stroke-width="2.2" stroke-linecap="round"/>
<path d="M111.6 531.6 L117 533.4 L113.8 538.6 Z" fill="#e6f7fd"/>
<path d="M109 524.8 C111.4 527.4 113 528.6 115.4 529.6" fill="none" stroke="#dff4fc" stroke-width="1.9" stroke-linecap="round"/>
<path d="M114.2 526.4 L118.2 530.6 L112.8 532 Z" fill="#e6f7fd"/>
<path d="M122.8 538.4 C122.2 536 122.4 534.4 123.4 532.4" fill="none" stroke="#dff4fc" stroke-width="1.9" stroke-linecap="round"/>
<path d="M120.8 533.6 L124.4 529 L126.2 534.6 Z" fill="#e6f7fd"/>
<circle cx="200.6" cy="89" r="24.5" fill="none" stroke="#e0252f" stroke-width="0.9"/>
</g>
<g font-family="'Liberation Sans', sans-serif" font-size="11.3" fill="#1a1a1a">
<rect x="48.3" y="76.6" width="86.8" height="20.6" fill="#c9c9c9"/>
<path d="M37.42 76.96 A10.8 10.8 0 1 1 28.98 76.96" fill="none" stroke="#e31e26" stroke-width="2.4"/><path d="M33.2 75.10000000000001 L33.2 87.7" stroke="#e31e26" stroke-width="2.1" fill="none"/>
<text x="49.6" y="91.4" textLength="81.6" lengthAdjust="spacingAndGlyphs">Waterpump Run</text>
<rect x="304" y="76" width="117.4" height="20.2" fill="#c9c9c9"/>
<path d="M293.62 75.86 A10.8 10.8 0 1 1 285.18 75.86" fill="none" stroke="#7f7f7f" stroke-width="2.4"/><path d="M289.4 74.0 L289.4 86.6" stroke="#7f7f7f" stroke-width="2.1" fill="none"/>
<text x="306" y="90.6" textLength="111.6" lengthAdjust="spacingAndGlyphs">Waterpump Off/Ready</text>
<rect x="565" y="76" width="114" height="20.2" fill="#c9c9c9"/>
<circle cx="566" cy="85.7" r="10.6" fill="#5f5f5f"/>
<path d="M560.8 79.8 L571.4 92 M571.4 79.8 L560.8 92" stroke="#ed1c24" stroke-width="3.4" fill="none"/>
<text x="579.4" y="90.6" textLength="29.4" lengthAdjust="spacingAndGlyphs">FAULT</text>
</g>
</svg>
</body></html>
